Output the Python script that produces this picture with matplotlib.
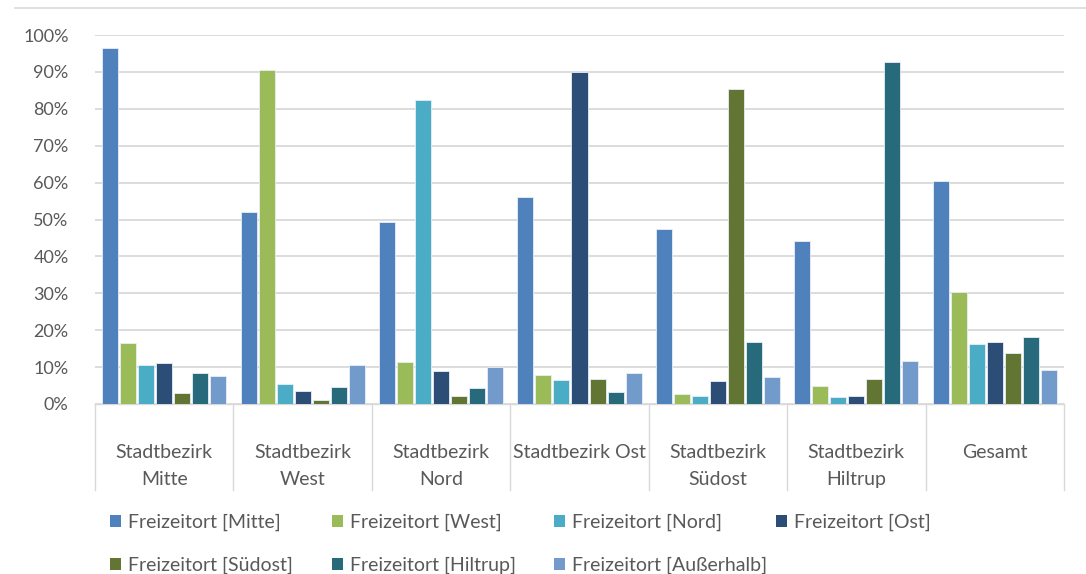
import numpy as np
import matplotlib
matplotlib.use("Agg")
import matplotlib.pyplot as plt
from matplotlib.lines import Line2D
from matplotlib.patches import Patch
from matplotlib.ticker import PercentFormatter

# Werte (Anteile in %)
categories = ["Stadtbezirk\nMitte", "Stadtbezirk\nWest", "Stadtbezirk\nNord",
              "Stadtbezirk Ost", "Stadtbezirk\nSüdost", "Stadtbezirk\nHiltrup", "Gesamt"]
series_names = ["Freizeitort [Mitte]", "Freizeitort [West]", "Freizeitort [Nord]",
                "Freizeitort [Ost]", "Freizeitort [Südost]", "Freizeitort [Hiltrup]",
                "Freizeitort [Außerhalb]"]
ort_mitte = [96.4, 52.1, 49.4, 56.0, 47.5, 44.2, 60.4]
ort_west = [16.4, 90.5, 11.3, 7.9, 2.7, 5.0, 30.4]
ort_nord = [10.6, 5.4, 82.4, 6.5, 2.3, 2.0, 16.2]
ort_ost = [11.2, 3.5, 8.9, 89.9, 6.3, 2.3, 16.9]
ort_suedost = [2.9, 1.1, 2.2, 6.7, 85.4, 6.7, 13.7]
ort_hiltrup = [8.3, 4.7, 4.4, 3.2, 16.9, 92.6, 18.2]
ort_ausserhalb = [7.6, 10.6, 10.1, 8.5, 7.4, 11.7, 9.2]
colors = ["#4F81BD", "#9BBB59", "#4BACC6", "#2C4D75", "#637532", "#276A7C", "#729ACA"]

series = [ort_mitte, ort_west, ort_nord, ort_ost, ort_suedost, ort_hiltrup, ort_ausserhalb]

plt.rcParams['font.family'] = ['Lato', 'DejaVu Sans']
text_col = "#595959"

fig = plt.figure(figsize=(10.86, 5.74), dpi=100)
ax = fig.add_axes([95 / 1086, 1 - 404 / 574, 969 / 1086, 369 / 574])

x = np.arange(len(categories))
step = 18 / 138.4
width = 16 / 138.4
handles = []
for i, (vals, col) in enumerate(zip(series, colors)):
    offs = (i - 3) * step
    ax.bar(x + offs, vals, width=width, color=col, edgecolor="#E8EEF6",
           linewidth=0.6, zorder=3)
    handles.append(Patch(facecolor=col, edgecolor="none"))

ax.set_xlim(-0.5, len(categories) - 0.5)
ax.set_ylim(0, 100)
ax.set_yticks(np.arange(0, 101, 10))
ax.yaxis.set_major_formatter(PercentFormatter(decimals=0))
ax.tick_params(axis='y', length=0, labelsize=13, labelcolor=text_col, pad=19)
ax.set_xticks([])
ax.grid(axis='y', color="#D9D9D9", linewidth=1.3, zorder=0)
for s in ax.spines.values():
    s.set_visible(False)

# Kategorie-Tabelle unter der Achse
trans = ax.get_xaxis_transform()
for d in np.arange(-0.5, len(categories), 1.0):
    ax.plot([d, d], [0, -86 / 369], transform=trans, color="#D9D9D9",
            linewidth=1.0, clip_on=False)
ax.plot([-0.5, len(categories) - 0.5], [0, 0], transform=trans, color="#D9D9D9",
        linewidth=1.0, clip_on=False)
for xi, lab in zip(x, categories):
    ax.text(xi, -40 / 369, lab, transform=trans, ha='center', va='top',
            fontsize=14, color=text_col, linespacing=1.7)

# Legende: vier gleich breite Spalten, zeilenweise gefuellt
legend_cols = [[0, 4], [1, 5], [2, 6], [3]]
col_x = [110, 332, 554, 776]
for cx, idx in zip(col_x, legend_cols):
    fig.legend([handles[k] for k in idx], [series_names[k] for k in idx],
               loc='upper left', bbox_to_anchor=(cx / 1086, 1 - 514 / 574),
               frameon=False, fontsize=14, labelcolor=text_col,
               handlelength=0.55, handleheight=0.55, handletextpad=0.35,
               labelspacing=1.3, borderpad=0, borderaxespad=0)

# obere Rahmenlinie
fig.add_artist(Line2D([15 / 1086, 1.0], [1 - 8 / 574, 1 - 8 / 574],
                      color="#D9D9D9", linewidth=1.2))

fig.savefig("out.png", dpi=100)
